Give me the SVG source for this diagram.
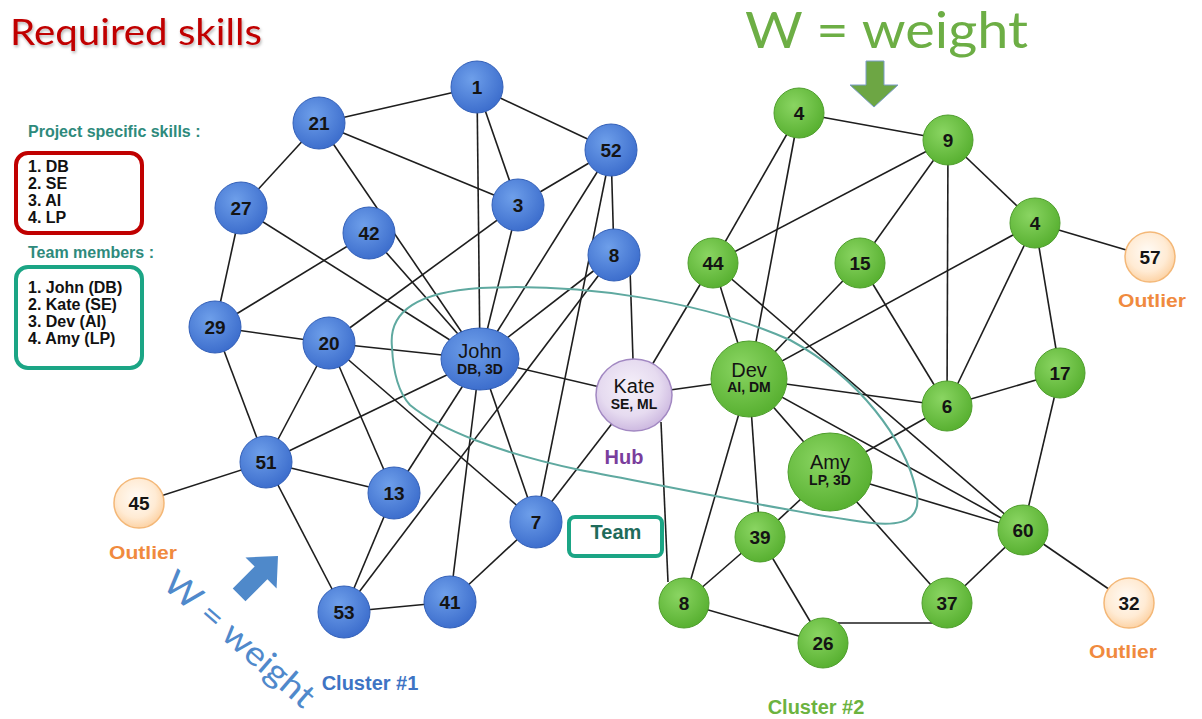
<svg xmlns="http://www.w3.org/2000/svg" width="1202" height="719" viewBox="0 0 1202 719">
  <defs>
    <radialGradient id="gBlue" cx="0.4" cy="0.35" r="0.7">
      <stop offset="0" stop-color="#6E9FEA"/>
      <stop offset="1" stop-color="#3A6BCB"/>
    </radialGradient>
    <radialGradient id="gGreen" cx="0.4" cy="0.35" r="0.7">
      <stop offset="0" stop-color="#8AD562"/>
      <stop offset="1" stop-color="#55AE2E"/>
    </radialGradient>
    <radialGradient id="gOut" cx="0.45" cy="0.4" r="0.65">
      <stop offset="0" stop-color="#FFFBF6"/>
      <stop offset="0.6" stop-color="#FFEBD4"/>
      <stop offset="1" stop-color="#FCCE9C"/>
    </radialGradient>
    <radialGradient id="gHub" cx="0.45" cy="0.4" r="0.65">
      <stop offset="0" stop-color="#F6F1FA"/>
      <stop offset="0.6" stop-color="#E6DBF0"/>
      <stop offset="1" stop-color="#C8B2DD"/>
    </radialGradient>
    <filter id="shadow" x="-5%" y="-20%" width="110%" height="160%">
      <feDropShadow dx="1" dy="2" stdDeviation="1.5" flood-color="#000" flood-opacity="0.3"/>
    </filter>
  </defs>
  <style>
    .edges line { stroke: #1e1e1e; stroke-width: 1.6; }
    .blue circle, .blue ellipse { fill: url(#gBlue); stroke: #3360B8; stroke-width: 1; }
    .green circle, .green ellipse { fill: url(#gGreen); stroke: #4E9E2C; stroke-width: 1; }
    .outlier circle { fill: url(#gOut); stroke: #F4B878; stroke-width: 1.5; }
    .hub ellipse { fill: url(#gHub); stroke: #A288C2; stroke-width: 1.5; }
    text { font-family: "Liberation Sans", Arial, sans-serif; }
    .num { font-size: 19px; font-weight: bold; fill: #141414; text-anchor: middle; }
    .name { font-size: 20px; fill: #141414; text-anchor: middle; }
    .sub { font-size: 14px; font-weight: bold; fill: #141414; text-anchor: middle; }
    .outl { font-size: 19px; font-weight: bold; fill: #F08A3E; text-anchor: middle; }
    .list { font-size: 16px; font-weight: bold; fill: #111; }
    .head { font-size: 16px; font-weight: bold; fill: #2E8A7C; }
    .big { font-family: Lato, "Liberation Sans", sans-serif; }
  </style>

  <rect width="1202" height="719" fill="#ffffff"/>

  <!-- titles -->
  <text class="big" x="10" y="45" font-size="37" fill="#C00000" textLength="252" lengthAdjust="spacingAndGlyphs" filter="url(#shadow)">Required skills</text>
  <text class="big" x="745" y="48" font-size="50" fill="#6DAE45" textLength="283" lengthAdjust="spacingAndGlyphs">W = weight</text>
  <polygon points="866,61 884,61 884,85 898,85 874,107 850,85 866,85" fill="#6DA644" stroke="#7A9CC8" stroke-width="1"/>
  <text class="big" x="0" y="0" font-size="34" fill="#5089CB" text-anchor="middle" textLength="188" lengthAdjust="spacingAndGlyphs" transform="translate(232,648) rotate(41)">W = weight</text>
  <polygon points="0,0 -24,-22 -24,-9 -55,-9 -55,9 -24,9 -24,22" fill="#4F89CA" transform="translate(278,556) rotate(-45)"/>

  <!-- legend -->
  <g id="legend-skills">
    <text class="head" x="28" y="137">Project specific skills :</text>
    <rect x="16" y="153" width="126" height="80" rx="12" fill="#fff" stroke="#C00000" stroke-width="4"/>
    <text class="list" x="28" y="172">1. DB</text>
    <text class="list" x="28" y="189">2. SE</text>
    <text class="list" x="28" y="206">3. AI</text>
    <text class="list" x="28" y="223">4. LP</text>
  </g>
  <g id="legend-team">
    <text class="head" x="28" y="258">Team members :</text>
    <rect x="16" y="267" width="126" height="101" rx="12" fill="#fff" stroke="#1BA585" stroke-width="4"/>
    <text class="list" x="28" y="293">1. John (DB)</text>
    <text class="list" x="28" y="310">2. Kate (SE)</text>
    <text class="list" x="28" y="327">3. Dev (AI)</text>
    <text class="list" x="28" y="344">4. Amy (LP)</text>
  </g>

  <!-- connectors -->
  <g id="connectors" class="edges">
    <line x1="477" y1="87" x2="319" y2="123"/>
    <line x1="477" y1="87" x2="611" y2="150"/>
    <line x1="477" y1="87" x2="518" y2="205"/>
    <line x1="477" y1="87" x2="480" y2="359"/>
    <line x1="319" y1="123" x2="241" y2="208"/>
    <line x1="319" y1="123" x2="518" y2="205"/>
    <line x1="319" y1="123" x2="480" y2="359"/>
    <line x1="241" y1="208" x2="215" y2="327"/>
    <line x1="241" y1="208" x2="480" y2="359"/>
    <line x1="369" y1="233" x2="215" y2="327"/>
    <line x1="369" y1="233" x2="480" y2="359"/>
    <line x1="518" y1="205" x2="611" y2="150"/>
    <line x1="518" y1="205" x2="329" y2="343"/>
    <line x1="518" y1="205" x2="480" y2="359"/>
    <line x1="611" y1="150" x2="614" y2="255"/>
    <line x1="611" y1="150" x2="480" y2="359"/>
    <line x1="611" y1="150" x2="536" y2="522"/>
    <line x1="614" y1="255" x2="480" y2="359"/>
    <line x1="614" y1="255" x2="344" y2="612"/>
    <line x1="630" y1="268" x2="633" y2="360"/>
    <line x1="215" y1="327" x2="329" y2="343"/>
    <line x1="215" y1="327" x2="266" y2="462"/>
    <line x1="329" y1="343" x2="480" y2="359"/>
    <line x1="329" y1="343" x2="266" y2="462"/>
    <line x1="329" y1="343" x2="394" y2="493"/>
    <line x1="329" y1="343" x2="536" y2="522"/>
    <line x1="480" y1="359" x2="266" y2="462"/>
    <line x1="480" y1="359" x2="394" y2="493"/>
    <line x1="480" y1="359" x2="450" y2="602"/>
    <line x1="480" y1="359" x2="536" y2="522"/>
    <line x1="480" y1="359" x2="634" y2="395"/>
    <line x1="266" y1="462" x2="139" y2="503"/>
    <line x1="266" y1="462" x2="394" y2="493"/>
    <line x1="266" y1="462" x2="344" y2="612"/>
    <line x1="394" y1="493" x2="344" y2="612"/>
    <line x1="344" y1="612" x2="450" y2="602"/>
    <line x1="450" y1="602" x2="536" y2="522"/>
    <line x1="536" y1="522" x2="634" y2="395"/>

    <line x1="799" y1="113" x2="948" y2="140"/>
    <line x1="799" y1="113" x2="713" y2="263"/>
    <line x1="799" y1="113" x2="749" y2="379"/>
    <line x1="948" y1="140" x2="713" y2="263"/>
    <line x1="948" y1="140" x2="860" y2="263"/>
    <line x1="948" y1="140" x2="947" y2="406"/>
    <line x1="948" y1="140" x2="1035" y2="223"/>
    <line x1="1035" y1="223" x2="1150" y2="257"/>
    <line x1="1035" y1="223" x2="749" y2="379"/>
    <line x1="1035" y1="223" x2="947" y2="406"/>
    <line x1="1035" y1="223" x2="1060" y2="373"/>
    <line x1="860" y1="263" x2="749" y2="379"/>
    <line x1="860" y1="263" x2="947" y2="406"/>
    <line x1="713" y1="263" x2="634" y2="395"/>
    <line x1="713" y1="263" x2="749" y2="379"/>
    <line x1="713" y1="263" x2="1023" y2="530"/>
    <line x1="749" y1="379" x2="634" y2="395"/>
    <line x1="749" y1="379" x2="947" y2="406"/>
    <line x1="749" y1="379" x2="1023" y2="530"/>
    <line x1="749" y1="379" x2="830" y2="472"/>
    <line x1="749" y1="379" x2="760" y2="537"/>
    <line x1="749" y1="379" x2="684" y2="603"/>
    <line x1="830" y1="472" x2="947" y2="406"/>
    <line x1="830" y1="472" x2="1023" y2="530"/>
    <line x1="830" y1="472" x2="760" y2="537"/>
    <line x1="830" y1="472" x2="947" y2="603"/>
    <line x1="947" y1="406" x2="1060" y2="373"/>
    <line x1="1060" y1="373" x2="1023" y2="530"/>
    <line x1="1023" y1="530" x2="947" y2="603"/>
    <line x1="1023" y1="530" x2="1129" y2="603"/>
    <line x1="760" y1="537" x2="684" y2="603"/>
    <line x1="760" y1="537" x2="823" y2="643"/>
    <line x1="684" y1="603" x2="823" y2="643"/>
    <line x1="838" y1="623" x2="933" y2="623"/>
    <line x1="661" y1="422" x2="668" y2="582"/>
  </g>

  <!-- team outline -->
  <path id="team-outline" d="M 392,347 C 388,310 420,292 480,288 C 580,283 700,300 790,340 C 860,378 905,440 916,490 C 925,528 890,527 850,520 C 770,508 660,485 580,470 C 500,453 440,430 410,405 C 398,392 393,370 392,347 Z" fill="none" stroke="#5FA9A0" stroke-width="2"/>

  <!-- cluster 1 -->
  <g id="node-1" class="blue"><circle cx="477" cy="87" r="26"/><text class="num" x="477" y="94">1</text></g>
  <g id="node-21" class="blue"><circle cx="319" cy="123" r="26"/><text class="num" x="319" y="130">21</text></g>
  <g id="node-52" class="blue"><circle cx="611" cy="150" r="26"/><text class="num" x="611" y="157">52</text></g>
  <g id="node-27" class="blue"><circle cx="241" cy="208" r="26"/><text class="num" x="241" y="215">27</text></g>
  <g id="node-3" class="blue"><circle cx="518" cy="205" r="26"/><text class="num" x="518" y="212">3</text></g>
  <g id="node-42" class="blue"><circle cx="369" cy="233" r="26"/><text class="num" x="369" y="240">42</text></g>
  <g id="node-8a" class="blue"><circle cx="614" cy="255" r="26"/><text class="num" x="614" y="262">8</text></g>
  <g id="node-29" class="blue"><circle cx="215" cy="327" r="26"/><text class="num" x="215" y="334">29</text></g>
  <g id="node-20" class="blue"><circle cx="329" cy="343" r="26"/><text class="num" x="329" y="350">20</text></g>
  <g id="node-john" class="blue"><ellipse cx="480" cy="359" rx="39" ry="31"/><text class="name" x="480" y="358" fill="#1B2650">John</text><text class="sub" x="480" y="374" fill="#1B2650">DB, 3D</text></g>
  <g id="node-51" class="blue"><circle cx="266" cy="462" r="26"/><text class="num" x="266" y="469">51</text></g>
  <g id="node-13" class="blue"><circle cx="394" cy="493" r="26"/><text class="num" x="394" y="500">13</text></g>
  <g id="node-7" class="blue"><circle cx="536" cy="522" r="26"/><text class="num" x="536" y="529">7</text></g>
  <g id="node-53" class="blue"><circle cx="344" cy="612" r="26"/><text class="num" x="344" y="619">53</text></g>
  <g id="node-41" class="blue"><circle cx="450" cy="602" r="26"/><text class="num" x="450" y="609">41</text></g>
  <g id="node-45" class="outlier"><circle cx="139" cy="503" r="25"/><text class="num" x="139" y="510">45</text><text class="outl" x="143" y="559" textLength="68" lengthAdjust="spacingAndGlyphs">Outlier</text></g>
  <text x="370" y="690" font-size="20" font-weight="bold" fill="#3E74C4" text-anchor="middle">Cluster #1</text>

  <!-- hub -->
  <g id="node-kate" class="hub"><ellipse cx="634" cy="395" rx="38" ry="36"/><text class="name" x="634" y="393">Kate</text><text class="sub" x="634" y="409">SE, ML</text><text x="624" y="464" font-size="20" font-weight="bold" fill="#7A3E9D" text-anchor="middle">Hub</text></g>

  <!-- team label -->
  <g id="team-label">
    <rect x="569" y="517" width="93" height="39" rx="6" fill="#fff" stroke="#1BA585" stroke-width="4"/>
    <text x="616" y="539" font-size="20" font-weight="bold" fill="#1F6B5B" text-anchor="middle">Team</text>
  </g>

  <!-- cluster 2 -->
  <g id="node-4a" class="green"><circle cx="799" cy="113" r="25"/><text class="num" x="799" y="120">4</text></g>
  <g id="node-9" class="green"><circle cx="948" cy="140" r="25"/><text class="num" x="948" y="147">9</text></g>
  <g id="node-4b" class="green"><circle cx="1035" cy="223" r="25"/><text class="num" x="1035" y="230">4</text></g>
  <g id="node-44" class="green"><circle cx="713" cy="263" r="25"/><text class="num" x="713" y="270">44</text></g>
  <g id="node-15" class="green"><circle cx="860" cy="263" r="25"/><text class="num" x="860" y="270">15</text></g>
  <g id="node-dev" class="green"><circle cx="749" cy="379" r="38"/><text class="name" x="749" y="377">Dev</text><text class="sub" x="749" y="392">AI, DM</text></g>
  <g id="node-17" class="green"><circle cx="1060" cy="373" r="25"/><text class="num" x="1060" y="380">17</text></g>
  <g id="node-6" class="green"><circle cx="947" cy="406" r="25"/><text class="num" x="947" y="413">6</text></g>
  <g id="node-amy" class="green"><ellipse cx="830" cy="472" rx="42" ry="39"/><text class="name" x="830" y="469">Amy</text><text class="sub" x="830" y="485">LP, 3D</text></g>
  <g id="node-60" class="green"><circle cx="1023" cy="530" r="25"/><text class="num" x="1023" y="537">60</text></g>
  <g id="node-39" class="green"><circle cx="760" cy="537" r="25"/><text class="num" x="760" y="544">39</text></g>
  <g id="node-8b" class="green"><circle cx="684" cy="603" r="25"/><text class="num" x="684" y="610">8</text></g>
  <g id="node-37" class="green"><circle cx="947" cy="603" r="25"/><text class="num" x="947" y="610">37</text></g>
  <g id="node-26" class="green"><circle cx="823" cy="643" r="25"/><text class="num" x="823" y="650">26</text></g>
  <g id="node-57" class="outlier"><circle cx="1150" cy="257" r="25"/><text class="num" x="1150" y="264">57</text><text class="outl" x="1152" y="307" textLength="68" lengthAdjust="spacingAndGlyphs">Outlier</text></g>
  <g id="node-32" class="outlier"><circle cx="1129" cy="603" r="25"/><text class="num" x="1129" y="610">32</text><text class="outl" x="1123" y="658" textLength="68" lengthAdjust="spacingAndGlyphs">Outlier</text></g>
  <text x="816" y="714" font-size="20" font-weight="bold" fill="#6CB33F" text-anchor="middle">Cluster #2</text>
</svg>
